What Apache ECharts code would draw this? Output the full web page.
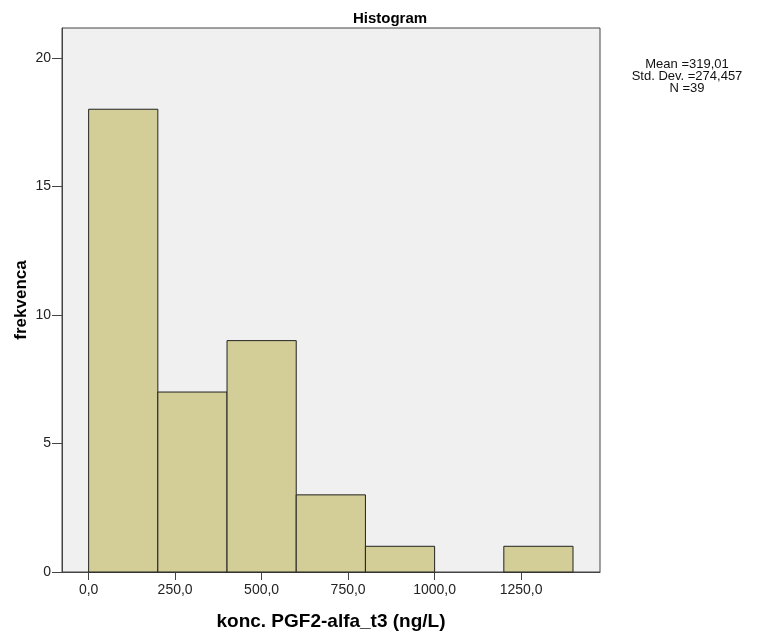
<!DOCTYPE html>
<html>
<head>
<meta charset="utf-8">
<script src="https://cdn.jsdelivr.net/npm/echarts@6/dist/echarts.min.js"></script>
<style>
html,body{margin:0;padding:0;background:#fff;overflow:hidden;}
#c{width:758px;height:636px;}
</style>
</head>
<body>
<div id="c"></div>
<script>
const binStarts = [0, 200, 400, 600, 800, 1000, 1200];
const binEnds = [200, 400, 600, 800, 1000, 1200, 1400];
const frequencies = [18, 7, 9, 3, 1, 0, 1];
const xTicks = [0, 250, 500, 750, 1000, 1250];
const yTicks = [0, 5, 10, 15, 20];
const statsLines = ['Mean =319,01', 'Std. Dev. =274,457', 'N =39'];

const barData = binStarts.map((s, i) => [s, binEnds[i], frequencies[i]]);
const font = '"Liberation Sans", Arial, sans-serif';

const chart = echarts.init(document.getElementById('c'), null, {renderer: 'canvas'});
chart.setOption({
  animation: false,
  backgroundColor: '#ffffff',
  graphic: [{
    type: 'text', x: 390, y: 11,
    style: {
      text: 'Histogram', font: 'bold 15px ' + font, fill: '#000',
      align: 'center', verticalAlign: 'top'
    }
  }, {
    type: 'text', x: 687, y: 58,
    style: {
      text: statsLines.join('\n'), font: '13px ' + font, fill: '#111',
      align: 'center', verticalAlign: 'top', lineHeight: 12
    }
  }],
  grid: {
    left: 62, top: 28, width: 538, height: 547, show: true,
    backgroundColor: '#F0F0F0', borderColor: '#444', borderWidth: 1
  },
  xAxis: {
    type: 'value', min: -77, max: 1478,
    name: 'konc. PGF2-alfa_t3 (ng/L)', nameLocation: 'middle', nameGap: 40,
    nameMoveOverlap: false,
    nameTextStyle: {fontFamily: font, fontSize: 19, fontWeight: 'bold', color: '#000'},
    axisLine: {show: true, onZero: false, lineStyle: {color: '#444'}},
    axisTick: {show: true, length: 8, customValues: xTicks, lineStyle: {color: '#444'}},
    axisLabel: {customValues: xTicks, fontFamily: font, fontSize: 14, color: '#222', margin: 11,
      formatter: v => v.toFixed(1).replace('.', ',')},
    splitLine: {show: false}
  },
  yAxis: {
    type: 'value', min: 0, max: 21.16,
    name: 'frekvenca', nameLocation: 'middle', nameGap: 32,
    nameMoveOverlap: false,
    nameTextStyle: {fontFamily: font, fontSize: 17, fontWeight: 'bold', color: '#000'},
    axisLine: {show: true, onZero: false, lineStyle: {color: '#444'}},
    axisTick: {show: true, length: 10, customValues: yTicks, lineStyle: {color: '#444'}},
    axisLabel: {customValues: yTicks, fontFamily: font, fontSize: 14, color: '#222', margin: 11},
    splitLine: {show: false}
  },
  series: [{
    type: 'custom',
    data: barData,
    encode: {x: [0, 1], y: 2},
    renderItem: function (params, api) {
      const x0 = api.value(0), x1 = api.value(1), f = api.value(2);
      if (f <= 0) return null;
      const p0 = api.coord([x0, f]);
      const p1 = api.coord([x1, 0]);
      return {
        type: 'rect',
        shape: {x: p0[0], y: p0[1], width: p1[0] - p0[0], height: p1[1] - p0[1]},
        style: {fill: '#D3CE97', stroke: '#222', lineWidth: 1}
      };
    }
  }]
});
</script>
</body>
</html>
